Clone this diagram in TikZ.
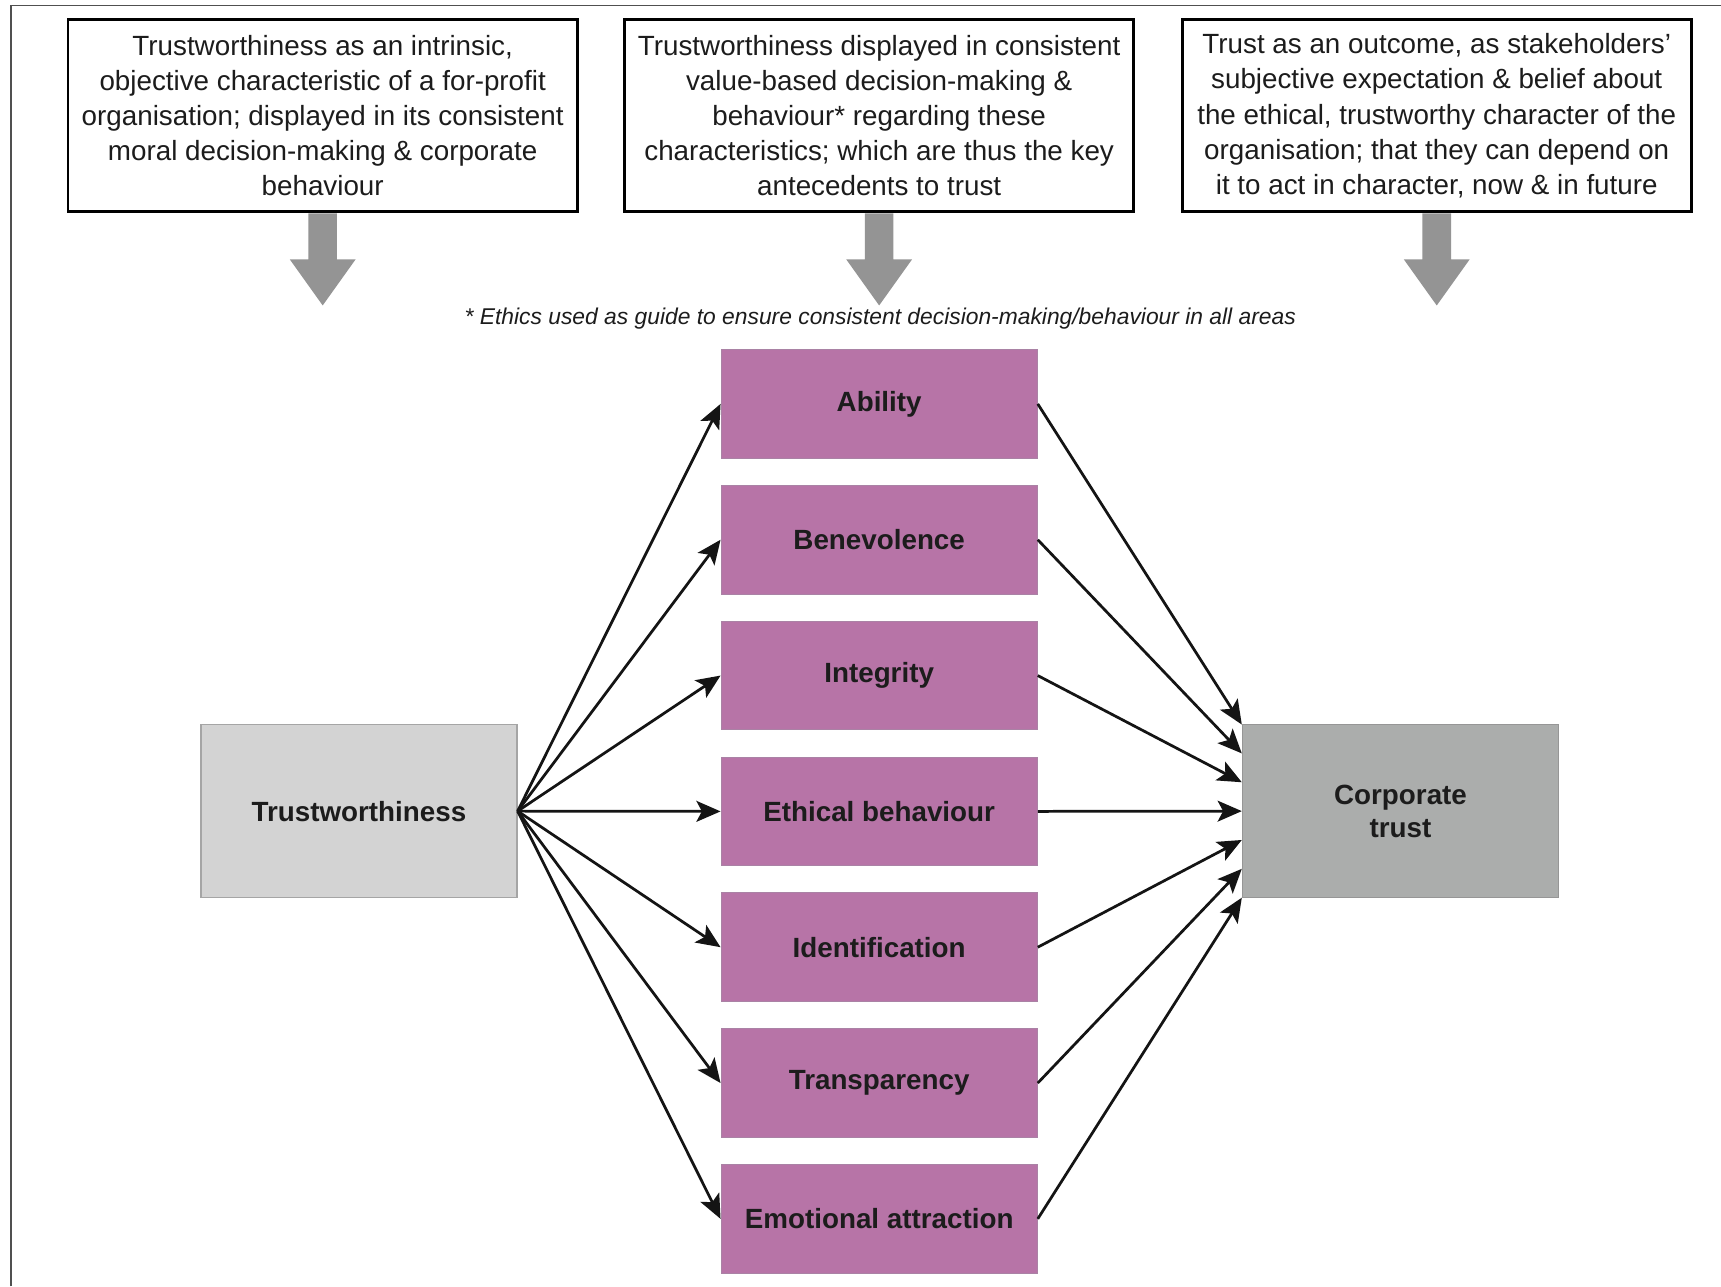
\documentclass[tikz,border=0pt]{standalone}
\usepackage{fontspec}
\setmainfont{Liberation Sans}
\usetikzlibrary{arrows.meta}

\definecolor{textdark}{RGB}{28,28,28}
\definecolor{framecol}{RGB}{80,80,80}
\definecolor{purplebox}{RGB}{183,116,167}
\definecolor{purpleedge}{RGB}{170,130,165}
\definecolor{lightbox}{RGB}{211,211,211}
\definecolor{lightedge}{RGB}{165,165,165}
\definecolor{darkbox}{RGB}{171,173,172}
\definecolor{darkedge}{RGB}{150,150,150}
\definecolor{bigarrowcol}{RGB}{148,148,148}

\tikzset{
  topbox/.style={draw=black, line width=1.3pt, fill=white, minimum width=232pt,
    minimum height=87.5pt, inner sep=0pt, align=center, text=textdark,
    font=\fontsize{12.66}{16}\selectfont},
  factor/.style={fill=purplebox, draw=purpleedge, line width=0.5pt,
    minimum width=144pt, minimum height=49.5pt, inner sep=0pt, text=textdark,
    font=\bfseries\fontsize{12.66}{15}\selectfont},
  endbox/.style={minimum width=144pt, minimum height=79pt, inner sep=0pt,
    align=center, text=textdark, line width=0.6pt,
    font=\bfseries\fontsize{12.66}{15}\selectfont},
  conn/.style={draw=black!92, line width=1.25pt,
    -{Stealth[length=11pt,width=9.5pt,inset=2.5pt]}},
  bigarrow/.style={fill=bigarrowcol, draw=none},
  note/.style={inner sep=0pt, text=textdark,
    font=\itshape\fontsize{10.4}{12}\selectfont}
}

\begin{document}
\begin{tikzpicture}[x=0.5pt,y=-0.5pt]
  \useasboundingbox (0,0) rectangle (1568,1172);
  \fill[white] (0,0) rectangle (1568,1172);
  % page frame: top and left rules only
  \draw[framecol, line width=0.8pt] (10,1172) -- (10,5) -- (1568,5);

  % explanatory boxes along the top
  \node[topbox] (t1) at (294,105.5) {Trustworthiness as an intrinsic,\\objective characteristic of a for-profit\\organisation; displayed in its consistent\\moral decision-making \& corporate\\behaviour};
  \node[topbox] (t2) at (801,105.5) {Trustworthiness displayed in consistent\\value-based decision-making \&\\behaviour* regarding these\\characteristics; which are thus the key\\antecedents to trust};
  \node[topbox] (t3) at (1309,105.5) {Trust as an outcome, as stakeholders'\\subjective expectation \& belief about\\the ethical, trustworthy character of the\\organisation; that they can depend on\\it to act in character, now \& in future};

  % block arrows below the top boxes
  \foreach \b in {t1,t2,t3} {
    \fill[bigarrow, shift={(\b.south)}]
      (-13,0) -- (13,0) -- (13,42) -- (30,42) -- (0,84)
      -- (-30,42) -- (-13,42) -- cycle;
  }

  \node[note] (fn) at (802,290) {* Ethics used as guide to ensure consistent decision-making/behaviour in all areas};

  % antecedents of trust
  \node[factor] (p1) at (801,368)    {Ability};
  \node[factor] (p2) at (801,491.75) {Benevolence};
  \node[factor] (p3) at (801,615.5)  {Integrity};
  \node[factor] (p4) at (801,739.25) {Ethical behaviour};
  \node[factor] (p5) at (801,863)    {Identification};
  \node[factor] (p6) at (801,986.75) {Transparency};
  \node[factor] (p7) at (801,1110.5) {Emotional attraction};

  \node[endbox, fill=lightbox, draw=lightedge] (tw) at (327,739) {Trustworthiness};
  \node[endbox, fill=darkbox, draw=darkedge] (ct) at (1276,739) {Corporate\\trust};

  % fan-out from trustworthiness
  \foreach \p in {p1,p2,p3,p4,p5,p6,p7}
    \draw[conn] (tw.east) -- (\p.west);

  % fan-in to corporate trust
  \draw[conn] (p1.east) -- ([yshift=39.45pt]ct.west);
  \draw[conn] (p2.east) -- ([yshift=26.3pt]ct.west);
  \draw[conn] (p3.east) -- ([yshift=13.15pt]ct.west);
  \draw[conn] (p4.east) -- (ct.west);
  \draw[conn] (p5.east) -- ([yshift=-13.15pt]ct.west);
  \draw[conn] (p6.east) -- ([yshift=-26.3pt]ct.west);
  \draw[conn] (p7.east) -- ([yshift=-39.45pt]ct.west);
\end{tikzpicture}
\end{document}
